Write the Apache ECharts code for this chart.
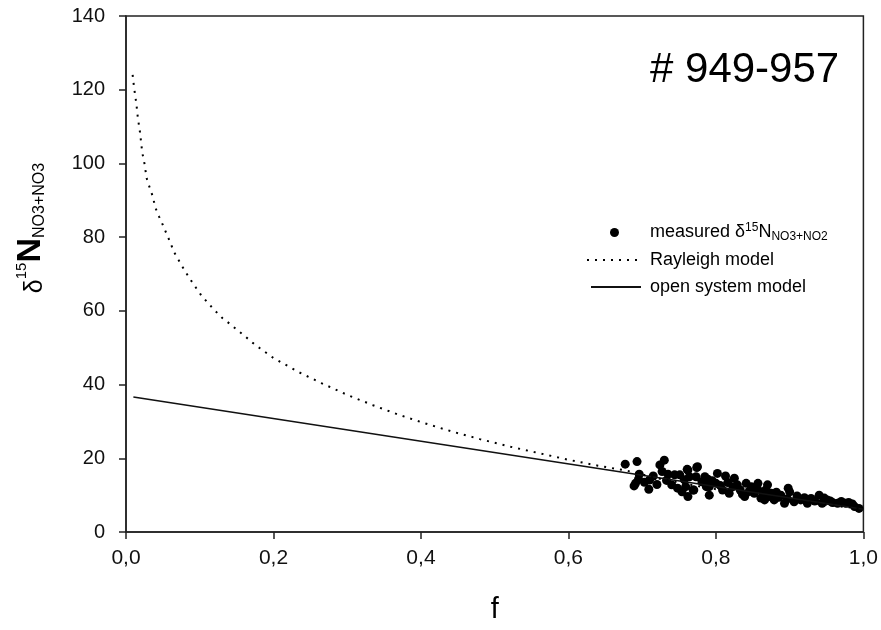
<!DOCTYPE html>
<html>
<head>
<meta charset="utf-8">
<script src="https://cdn.jsdelivr.net/npm/echarts@6/dist/echarts.min.js"></script>
<style>
  html, body { margin: 0; padding: 0; background: #fff; }
  #chart { width: 881px; height: 630px; }
</style>
</head>
<body>
<div id="chart"></div>
<script>
// Measured δ15N of NO3+NO2 versus remaining fraction f
const measured = [
  [0.677, 18.4], [0.693, 19.1], [0.696, 15.7], [0.695, 14.3], [0.691, 13.2], [0.689, 12.5],
  [0.709, 11.6], [0.710, 14.1], [0.720, 12.9], [0.724, 18.2], [0.730, 19.5], [0.727, 16.4],
  [0.735, 15.7], [0.744, 15.5], [0.740, 12.8], [0.748, 11.9], [0.751, 15.5], [0.754, 10.9],
  [0.762, 9.6], [0.761, 17.0], [0.764, 15.0], [0.770, 11.4], [0.775, 17.7], [0.773, 15.0],
  [0.785, 15.0], [0.787, 12.3], [0.762, 16.8], [0.774, 17.5], [0.759, 12.3], [0.769, 11.4],
  [0.789, 14.3], [0.791, 12.3], [0.791, 10.0], [0.802, 15.9], [0.800, 13.2], [0.809, 11.4],
  [0.813, 15.2], [0.825, 14.6], [0.823, 12.3], [0.818, 10.5], [0.833, 11.4], [0.841, 13.2],
  [0.848, 12.3], [0.839, 9.6], [0.852, 10.5], [0.857, 13.2], [0.864, 10.9], [0.866, 8.7],
  [0.872, 9.6], [0.870, 12.8], [0.875, 10.5], [0.879, 8.7], [0.888, 10.0], [0.893, 7.8],
  [0.900, 10.9], [0.906, 8.2], [0.915, 8.7], [0.924, 7.8], [0.929, 9.1], [0.940, 10.0],
  [0.944, 7.8], [0.951, 8.7], [0.958, 8.0], [0.965, 7.8], [0.976, 7.8], [0.980, 8.0],
  [0.988, 6.9], [0.994, 6.4], [0.703, 13.5], [0.715, 15.2], [0.733, 14.0], [0.757, 14.2],
  [0.781, 13.6], [0.795, 13.9], [0.806, 12.6], [0.816, 13.4], [0.829, 12.8], [0.836, 10.2],
  [0.845, 11.0], [0.856, 11.8], [0.861, 9.2], [0.868, 11.5], [0.882, 10.8], [0.885, 9.4],
  [0.897, 9.0], [0.910, 9.8], [0.920, 9.3], [0.934, 8.4], [0.947, 9.2], [0.955, 8.4],
  [0.970, 8.3], [0.985, 7.6], [0.898, 11.9]
];

// Rayleigh model curve
const rayleighF = [
  0.009, 0.011, 0.014, 0.016, 0.019, 0.022, 0.025, 0.028, 0.032, 0.036,
  0.040, 0.045, 0.050, 0.055, 0.060, 0.065, 0.073, 0.080, 0.086, 0.093,
  0.101, 0.110, 0.121, 0.131, 0.140, 0.151, 0.162, 0.172, 0.182, 0.200,
  0.235, 0.265, 0.300, 0.335, 0.370, 0.405, 0.445, 0.480, 0.520, 0.560,
  0.600, 0.640, 0.680, 0.720, 0.760, 0.800, 0.850, 0.900, 0.950, 1.000
];
const rayleighD = [
  124.0, 120.5, 116.3, 112.5, 108.4, 103.0, 100.0, 96.0, 93.5, 91.2,
  87.9, 85.5, 83.3, 80.9, 78.6, 76.0, 73.2, 70.8, 68.9, 66.8,
  64.5, 62.4, 60.0, 58.0, 56.6, 54.8, 53.0, 51.3, 49.8, 47.2,
  43.3, 40.4, 37.2, 34.4, 31.8, 29.5, 27.1, 25.2, 23.2, 21.4,
  19.6, 18.0, 16.6, 14.6, 13.0, 11.6, 10.1, 8.7, 7.4, 6.2
];

// Open system model line
const openF = [0.01, 1.0];
const openD = [36.6, 6.2];

// Axis ticks
const xTicks = [0, 0.2, 0.4, 0.6, 0.8, 1.0];
const yTicks = [0, 20, 40, 60, 80, 100, 120, 140];

const FONT = '"Liberation Sans", Arial, sans-serif';
const zip = (a, b) => a.map((v, i) => [v, b[i]]);

const chart = echarts.init(document.getElementById('chart'), null, { renderer: 'canvas' });

const axisCommon = {
  axisLine: { show: true, lineStyle: { color: '#222', width: 1.5 } },
  axisTick: { show: true, inside: false, length: 7, lineStyle: { color: '#222', width: 1.5 } },
  splitLine: { show: false },
  axisLabel: { color: '#111', fontSize: 20, fontFamily: FONT }
};

const legendText = {
  fontSize: 18, color: '#000', fontFamily: FONT
};

chart.setOption({
  backgroundColor: '#fff',
  animation: false,
  title: {
    text: '# 949-957',
    left: 650, top: 49, padding: 0,
    textStyle: { fontSize: 42, fontWeight: 'normal', color: '#000', fontFamily: FONT }
  },
  grid: {
    left: 126, right: 15, top: 16, bottom: 98,
    show: true, borderColor: '#222', borderWidth: 1.5, backgroundColor: 'transparent'
  },
  xAxis: Object.assign({}, axisCommon, {
    type: 'value',
    min: xTicks[0], max: xTicks[xTicks.length - 1], interval: 0.2,
    name: 'f', nameLocation: 'middle', nameGap: 63,
    nameTextStyle: { fontSize: 29, color: '#000', fontFamily: FONT },
    axisLabel: Object.assign({}, axisCommon.axisLabel, {
      margin: 16, fontSize: 21,
      formatter: v => v.toFixed(1).replace('.', ',')
    })
  }),
  yAxis: Object.assign({}, axisCommon, {
    type: 'value',
    min: yTicks[0], max: yTicks[yTicks.length - 1], interval: 20,
    name: '{d|δ}{sup|15}{n|N}{sub|NO3+NO3}',
    nameLocation: 'middle', nameRotate: 90, nameGap: 78,
    nameTextStyle: {
      color: '#000', fontFamily: FONT, padding: [0, 0, 0, 92],
      rich: {
        d: { fontSize: 25, fontFamily: FONT, color: '#000', verticalAlign: 'bottom' },
        sup: { fontSize: 15, fontFamily: FONT, color: '#000', verticalAlign: 'top', padding: [0, 0, 10, 0] },
        n: { fontSize: 34, fontWeight: 'bold', fontFamily: FONT, color: '#000', verticalAlign: 'bottom' },
        sub: { fontSize: 16, fontFamily: FONT, color: '#000', verticalAlign: 'bottom', padding: [8, 0, 0, 0] }
      }
    },
    axisLabel: Object.assign({}, axisCommon.axisLabel, { margin: 21 })
  }),
  legend: [
    {
      data: ['measured'], orient: 'vertical', left: 610, top: 222,
      itemWidth: 9, itemHeight: 9, padding: 0,
      formatter: () => 'measured δ{sup|15}N{sub|NO3+NO2}',
      textStyle: Object.assign({}, legendText, {
        padding: [0, 0, 0, 26],
        rich: {
          sup: { fontSize: 12, fontFamily: FONT, color: '#000', verticalAlign: 'top', padding: [0, 0, 9, 0] },
          sub: { fontSize: 12, fontFamily: FONT, color: '#000', verticalAlign: 'bottom', padding: [7, 0, 0, 0] }
        }
      })
    },
    {
      data: [{ name: 'Rayleigh model', itemStyle: { opacity: 0 } }],
      orient: 'vertical', left: 586, top: 251,
      itemWidth: 54, itemHeight: 10, padding: 0,
      textStyle: Object.assign({}, legendText, { padding: [0, 0, 0, 4] })
    },
    {
      data: [{ name: 'open system model', itemStyle: { opacity: 0 } }],
      orient: 'vertical', left: 590, top: 278,
      itemWidth: 50, itemHeight: 10, padding: 0,
      textStyle: Object.assign({}, legendText, { padding: [0, 0, 0, 4] })
    }
  ],
  series: [
    {
      name: 'open system model', type: 'line',
      data: zip(openF, openD), showSymbol: false, symbol: 'none',
      lineStyle: { color: '#111', width: 1.5 }, itemStyle: { color: '#111' }
    },
    {
      name: 'Rayleigh model', type: 'line',
      data: zip(rayleighF, rayleighD), showSymbol: false, symbol: 'none',
      lineStyle: { color: '#000', width: 2, type: [2, 6] }, itemStyle: { color: '#000' }
    },
    {
      name: 'measured', type: 'scatter',
      data: measured, symbol: 'circle', symbolSize: 9,
      itemStyle: { color: '#000', opacity: 1 }
    }
  ]
});
</script>
</body>
</html>
